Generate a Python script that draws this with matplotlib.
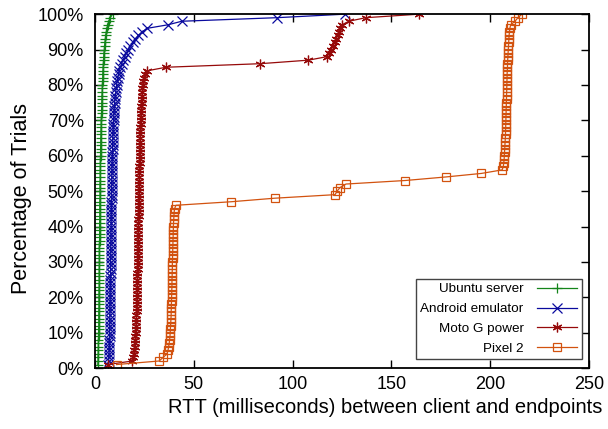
import matplotlib
matplotlib.use("Agg")
import matplotlib.pyplot as plt

plt.rcParams['font.family'] = ['Liberation Sans', 'DejaVu Sans']

percent = list(range(1, 101))

ubuntu = [1.5, 1.6, 1.6, 1.7, 1.7, 1.8, 1.8, 1.8, 1.9, 1.9,
          1.9, 2.0, 2.0, 2.0, 2.0, 2.0, 2.1, 2.1, 2.1, 2.1,
          2.1, 2.1, 2.2, 2.2, 2.2, 2.2, 2.2, 2.2, 2.3, 2.3,
          2.3, 2.3, 2.3, 2.3, 2.3, 2.4, 2.4, 2.4, 2.4, 2.4,
          2.4, 2.5, 2.5, 2.5, 2.5, 2.5, 2.5, 2.6, 2.6, 2.6,
          2.6, 2.6, 2.7, 2.7, 2.7, 2.7, 2.8, 2.8, 2.8, 2.9,
          2.9, 2.9, 3.0, 3.0, 3.0, 3.1, 3.1, 3.2, 3.2, 3.3,
          3.3, 3.4, 3.4, 3.5, 3.5, 3.6, 3.6, 3.7, 3.8, 3.8,
          3.9, 4.0, 4.0, 4.1, 4.2, 4.3, 4.4, 4.5, 4.6, 4.8,
          4.9, 5.1, 5.3, 5.5, 5.8, 6.1, 6.5, 7.0, 7.8, 9.0]

android = [6.5, 7.0, 7.1, 7.2, 7.3, 7.3, 7.4, 7.4, 7.5, 7.5,
           7.5, 7.6, 7.6, 7.6, 7.7, 7.7, 7.7, 7.7, 7.8, 7.8,
           7.8, 7.8, 7.9, 7.9, 7.9, 7.9, 8.0, 8.0, 8.0, 8.0,
           8.0, 8.1, 8.1, 8.1, 8.1, 8.2, 8.2, 8.2, 8.2, 8.3,
           8.3, 8.3, 8.3, 8.4, 8.4, 8.4, 8.4, 8.5, 8.5, 8.5,
           8.5, 8.6, 8.6, 8.6, 8.7, 8.7, 8.7, 8.8, 8.8, 8.9,
           8.9, 9.0, 9.0, 9.1, 9.1, 9.2, 9.3, 9.3, 9.4, 9.5,
           9.6, 9.7, 9.8, 9.9, 10.0, 10.2, 10.4, 10.6, 10.8, 11.0,
           11.3, 11.6, 12.0, 12.4, 12.9, 13.5, 14.2, 15.0, 16.0, 17.0,
           18.0, 19.2, 20.5, 22.0, 24.0, 26.5, 37.0, 44.0, 92.0, 126.5]

moto = [6.5, 19.0, 19.5, 19.8, 20.0, 20.2, 20.3, 20.4, 20.5, 20.6,
        20.7, 20.8, 20.9, 21.0, 21.0, 21.1, 21.1, 21.2, 21.2, 21.3,
        21.3, 21.4, 21.4, 21.4, 21.5, 21.5, 21.5, 21.6, 21.6, 21.6,
        21.7, 21.7, 21.7, 21.8, 21.8, 21.8, 21.9, 21.9, 21.9, 22.0,
        22.0, 22.0, 22.1, 22.1, 22.1, 22.2, 22.2, 22.2, 22.3, 22.3,
        22.3, 22.4, 22.4, 22.4, 22.5, 22.5, 22.5, 22.6, 22.6, 22.7,
        22.7, 22.7, 22.8, 22.8, 22.9, 22.9, 23.0, 23.0, 23.1, 23.2,
        23.2, 23.3, 23.4, 23.5, 23.6, 23.7, 23.8, 23.9, 24.1, 24.3,
        24.6, 25.0, 25.6, 26.5, 36.0, 83.5, 108.0, 117.5, 118.5, 119.5,
        120.5, 121.3, 122.0, 122.8, 123.5, 124.2, 125.0, 128.5, 137.0, 164.0]

pixel2 = [11.0, 32.5, 34.5, 36.5, 37.0, 37.3, 37.6, 37.8, 38.0, 38.1,
          38.2, 38.3, 38.4, 38.5, 38.6, 38.6, 38.7, 38.7, 38.8, 38.8,
          38.9, 38.9, 39.0, 39.0, 39.0, 39.1, 39.1, 39.2, 39.2, 39.2,
          39.3, 39.3, 39.4, 39.4, 39.5, 39.5, 39.6, 39.6, 39.7, 39.7,
          39.8, 39.9, 40.0, 40.1, 40.3, 41.0, 69.0, 91.0, 121.5, 122.5,
          124.0, 127.0, 157.0, 177.5, 195.5, 206.0, 206.6, 206.8, 207.0, 207.1,
          207.2, 207.3, 207.4, 207.5, 207.6, 207.7, 207.7, 207.8, 207.8, 207.9,
          207.9, 208.0, 208.0, 208.1, 208.1, 208.2, 208.2, 208.3, 208.3, 208.4,
          208.4, 208.5, 208.5, 208.6, 208.7, 208.7, 208.8, 208.9, 209.0, 209.1,
          209.2, 209.3, 209.4, 209.5, 209.7, 209.9, 210.3, 212.5, 214.0, 216.0]

labels = ["Ubuntu server", "Android emulator", "Moto G power", "Pixel 2"]
colors = ["#14851a", "#0a0a9e", "#960a0a", "#d2520f"]
markers = ["+", "x", (6, 2, 0), "s"]

xticks = [0, 50, 100, 150, 200, 250]
yticks = [0, 10, 20, 30, 40, 50, 60, 70, 80, 90, 100]
ytick_labels = [f"{v}%" for v in yticks]

fig = plt.figure(figsize=(6.08, 4.29), dpi=100)
ax = fig.add_axes([0.156, 0.142, 0.813, 0.825])

series = [ubuntu, android, moto, pixel2]
for data, lab, col, mk in zip(series, labels, colors, markers):
    kw = dict(color=col, linewidth=0.9, marker=mk, markersize=7,
              markeredgewidth=0.9, label=lab)
    if mk == "s":
        kw.update(markerfacecolor="none", markersize=6)
    ax.plot(data, percent, **kw)

ax.set_xlim(0, 250)
ax.set_ylim(0, 100)
ax.set_xticks(xticks)
ax.set_yticks(yticks)
ax.set_yticklabels(ytick_labels)
ax.tick_params(direction="in", top=True, right=True, length=6, width=1,
               labelsize=13, pad=6)
ax.tick_params(axis="y", pad=8)
for s in ax.spines.values():
    s.set_linewidth(1.3)

ax.set_xlabel("RTT (milliseconds) between client and endpoints", fontsize=14.5, labelpad=3)
ax.xaxis.label.set_x(0.588)
ax.set_ylabel("Percentage of Trials", fontsize=15.5, labelpad=4)
ax.yaxis.label.set_y(0.48)

leg = ax.legend(loc="lower right", bbox_to_anchor=(0.985, 0.025), fontsize=9.7,
                markerfirst=False, handlelength=3.0, frameon=True, fancybox=False,
                edgecolor="#444444", framealpha=1, borderpad=0.32, labelspacing=0.55,
                handletextpad=1.0, borderaxespad=0)
leg.get_frame().set_linewidth(1.0)

fig.savefig("out.png", dpi=100)
